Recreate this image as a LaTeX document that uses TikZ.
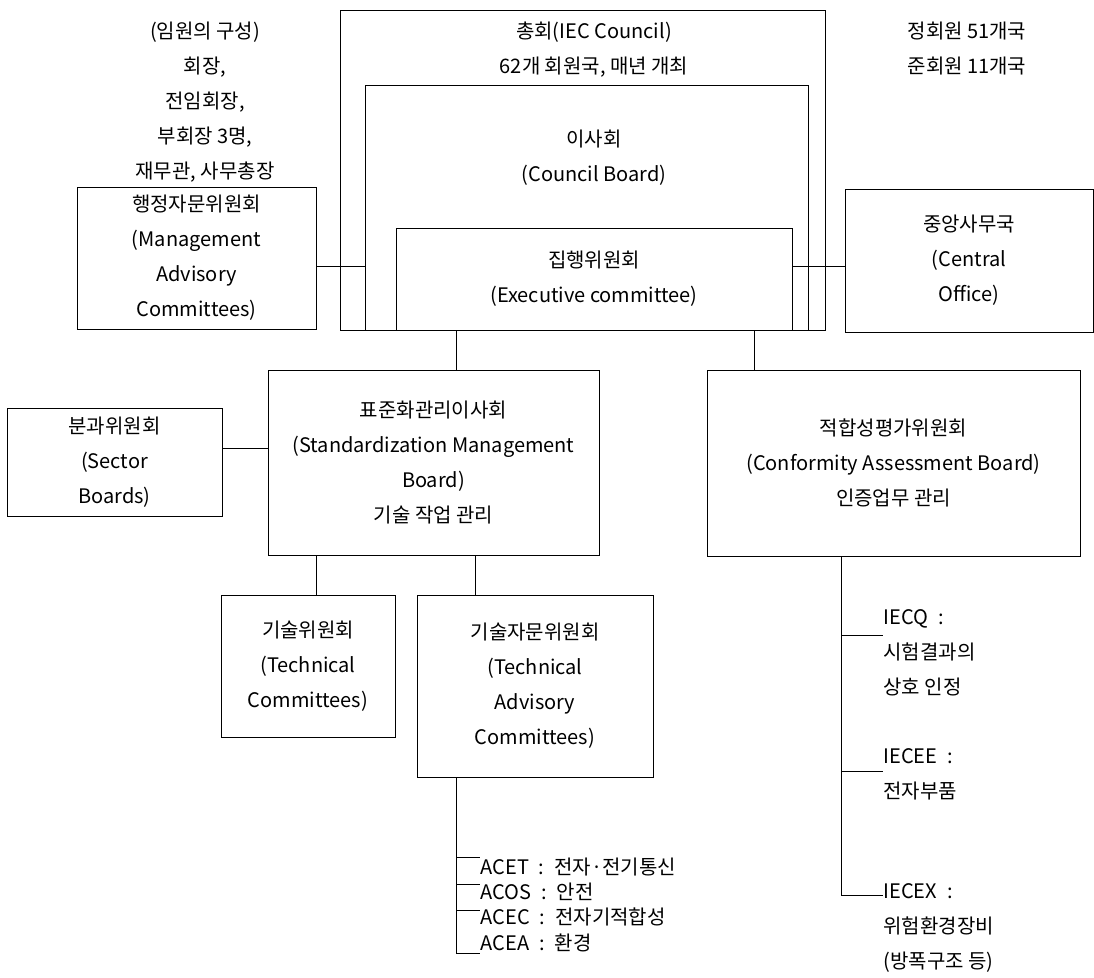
\documentclass[tikz,border=0pt]{standalone}
\usepackage{fontspec}
\setmainfont{Noto Sans CJK KR}
\begin{document}
\begin{tikzpicture}[x=1pt,y=-1pt,line width=1pt,font=\fontsize{20}{35}\selectfont,
  unit/.style={draw,align=center,inner sep=0pt},
  txt/.style={align=center,inner sep=0pt},
  item/.style={anchor=west,align=left,inner sep=0pt}]
\useasboundingbox (0,0) rectangle (1094,977);
\node[txt](officers) at (205,102){(임원의 구성)\\회장,\\전임회장,\\부회장 3명,\\재무관, 사무총장};
\node[txt](members) at (967,49){정회원 51개국\\준회원 11개국};
\node[unit,minimum width=485,minimum height=320](council) at (582.5,170){};
\node[unit,minimum width=443,minimum height=245](board) at (586.5,207.5){};
\node[unit,minimum width=396,minimum height=102](exec) at (594,279){집행위원회\\(Executive committee)};
\node[txt](counciltxt) at (594,50){총회(IEC Council)\\62개 회원국, 매년 개최};
\node[txt](boardtxt) at (594,158){이사회\\(Council Board)};
\node[unit,minimum width=239,minimum height=142](mgmt) at (196.5,258){행정자문위원회\\(Management\\Advisory\\Committees)};
\node[unit,minimum width=248,minimum height=143](central) at (969,260.5){중앙사무국\\(Central\\Office)};
\coordinate(tie) at (0,266);
\draw(mgmt.east|-tie)--(board.west|-tie);
\draw(exec.east|-tie)--(central.west|-tie);
% boards below the executive committee
\node[unit,minimum width=331,minimum height=185](smb) at (433.5,462.5){표준화관리이사회\\(Standardization Management\\Board)\\기술 작업 관리};
\node[unit,minimum width=373,minimum height=186](cab) at (893.5,463){적합성평가위원회\\(Conformity Assessment Board)\\인증업무 관리};
\node[unit,minimum width=215,minimum height=108](sector) at (114.5,462){분과위원회\\(Sector\\Boards)};
\coordinate(dropL) at (456,0);
\coordinate(dropR) at (754,0);
\coordinate(tieS) at (0,448);
\draw(exec.south-|dropL)--(smb.north-|dropL);
\draw(exec.south-|dropR)--(cab.north-|dropR);
\draw(sector.east|-tieS)--(smb.west|-tieS);
\node[unit,minimum width=174,minimum height=142](tc) at (308,666){기술위원회\\(Technical\\Committees)};
\node[unit,minimum width=236,minimum height=182](tac) at (535,686){기술자문위원회\\(Technical\\Advisory\\Committees)};
\coordinate(dropTC) at (316,0);
\coordinate(dropTAC) at (475,0);
\draw(smb.south-|dropTC)--(tc.north-|dropTC);
\draw(smb.south-|dropTAC)--(tac.north-|dropTAC);
% advisory committees
\node[item](acet) at (480,867){ACET\enspace:\enspace 전자·전기통신};
\node[item](acos) at (480,892){ACOS\enspace:\enspace 안전};
\node[item](acec) at (480,917){ACEC\enspace:\enspace 전자기적합성};
\node[item](acea) at (480,943){ACEA\enspace:\enspace 환경};
\coordinate(spineA) at (456,0);
\coordinate(ta) at ([yshift=10]acet.west);
\coordinate(tb) at ([yshift=8]acos.west);
\coordinate(tcc) at ([yshift=7]acec.west);
\coordinate(td) at ([yshift=-10]acea.west);
\draw(tac.south-|spineA)|-(td);
\draw(ta-|spineA)--(ta);
\draw(tb-|spineA)--(tb);
\draw(tcc-|spineA)--(tcc);
% certification schemes
\node[item](iecq) at (883,653){IECQ\enspace:\\시험결과의\\상호 인정};
\node[item](iecee) at (883,774.5){IECEE\enspace:\\전자부품};
\node[item](iecex) at (883,928){IECEX\enspace:\\위험환경장비\\(방폭구조 등)};
\coordinate(spineB) at (841,0);
\coordinate(qa) at ([yshift=17.5]iecq.west);
\coordinate(qb) at ([yshift=3]iecee.west);
\coordinate(qc) at ([yshift=33]iecex.west);
\draw(cab.south-|spineB)|-(qc);
\draw(qa-|spineB)--(qa);
\draw(qb-|spineB)--(qb);
\end{tikzpicture}
\end{document}
